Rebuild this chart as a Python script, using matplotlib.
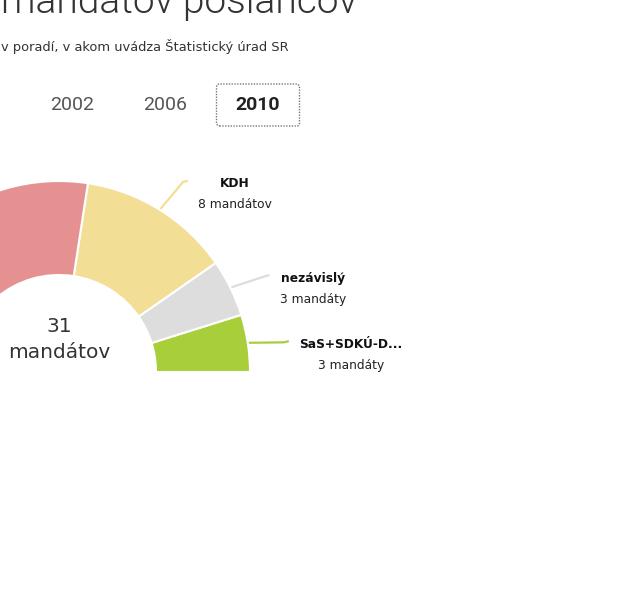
import matplotlib
matplotlib.use("Agg")
import matplotlib.pyplot as plt
import numpy as np
from matplotlib.offsetbox import TextArea, VPacker, AnnotationBbox
from matplotlib.patches import FancyBboxPatch

# Seats in the order the Statistical Office lists them (right to left on the arc)
parties = ["SaS+SDKÚ-D...", "nezávislý", "KDH", "SMER-SD"]
seats = [3, 3, 8, 17]
colors = ["#a8cf3a", "#dddddd", "#f3de96", "#e59192"]

years = ["2002", "2006", "2010"]
selected = "2010"

title = "mandátov poslancov"
subtitle = "v poradí, v akom uvádza Štatistický úrad SR"


def seat_word(n):
    if n == 1:
        return "mandát"
    if 2 <= n <= 4:
        return "mandáty"
    return "mandátov"


W, H = 640, 612
fig = plt.figure(figsize=(W / 100, H / 100), dpi=100)
ax = fig.add_axes([0, 0, 1, 1])

# Half-donut geometry (pixels)
cx, cy = 59, H - 372
R, r = 191, 97
total = sum(seats)

wedges, _ = ax.pie(np.array(seats) / (2.0 * total), normalize=False,
                   startangle=0, counterclock=True, radius=R, center=(cx, cy),
                   colors=colors,
                   wedgeprops=dict(width=R - r, edgecolor="white", linewidth=1.5))

# Leader lines and labels
for w, name, n, col in zip(wedges, parties, seats, colors):
    mid = (w.theta1 + w.theta2) / 2.0
    th0 = np.deg2rad(mid)
    th1 = np.deg2rad(mid - 1.2)
    x0, y0 = cx + (R + 2) * np.cos(th0), cy + (R + 2) * np.sin(th0)
    x1, y1 = cx + (R + 36) * np.cos(th1), cy + (R + 36) * np.sin(th1)
    side = 1 if np.cos(th0) >= 0 else -1
    x2, y2 = x1 + 4 * side, y1 + 1
    if x2 < 0:
        # label of this slice lies outside the visible part of the page
        continue
    ax.plot([x0, x1, x2], [y0, y1, y2], color=col, lw=1.6,
            solid_capstyle="round", solid_joinstyle="round")

    box = VPacker(children=[
        TextArea(name, textprops=dict(fontsize=8.8, weight="bold",
                                      family="DejaVu Sans", color="#111111")),
        TextArea("%d %s" % (n, seat_word(n)),
                 textprops=dict(fontsize=8.8, family="DejaVu Sans",
                                color="#222222")),
    ], align="center", pad=0, sep=5.7)
    ab = AnnotationBbox(box, (x2, y2), xybox=(8 * side, 2.5),
                        xycoords="data", boxcoords="offset points",
                        box_alignment=(0 if side > 0 else 1, 1),
                        frameon=False, pad=0)
    ax.add_artist(ab)

# Total in the middle
ax.text(cx, H - 327, str(total), ha="center", va="center", fontsize=14.5,
        family="DejaVu Sans", color="#333333")
ax.text(cx, H - 352, "mandátov", ha="center", va="center", fontsize=14.5,
        family="DejaVu Sans", color="#333333")

# Title and subtitle (page is cropped)
ax.text(357, H - 13, title, ha="right", va="baseline", fontsize=28,
        family="Roboto", weight=300, color="#333333")
ax.text(1, H - 46, subtitle, ha="left", va="center", fontsize=9.4,
        family="DejaVu Sans", color="#333333")

# Year switcher
for i, yr in enumerate(years):
    x, y = 72 + i * 93, H - 105
    if yr == selected:
        ax.add_patch(FancyBboxPatch((x - 41.5, y - 21), 83, 42,
                                    boxstyle="round,pad=0,rounding_size=3",
                                    facecolor="white", edgecolor="#777777",
                                    linestyle=(0, (1, 1)), lw=1))
        ax.text(x, y, yr, ha="center", va="center", fontsize=14,
                family="Roboto", weight="bold", color="#222222")
    else:
        ax.text(x, y, yr, ha="center", va="center", fontsize=14,
                family="Roboto", color="#555555")

ax.set_xlim(0, W)
ax.set_ylim(0, H)
ax.set_aspect("auto")
ax.axis("off")

fig.savefig("out.png", dpi=100, facecolor="white")
